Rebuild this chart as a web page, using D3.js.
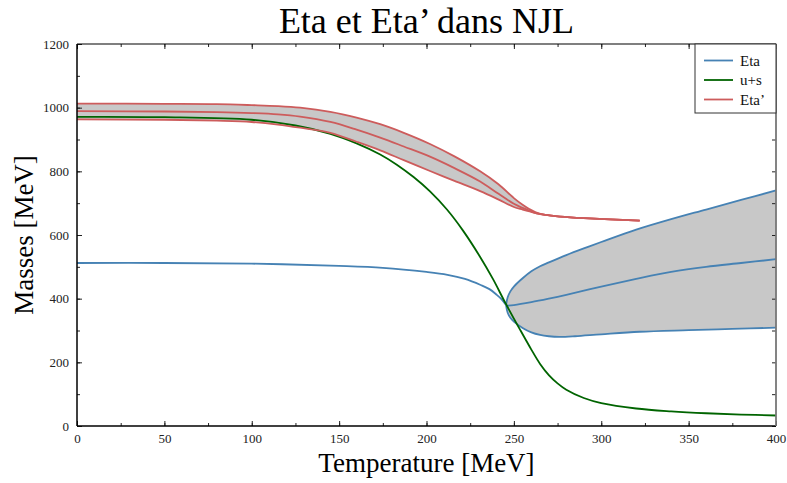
<!DOCTYPE html>
<html>
<head>
<meta charset="utf-8">
<script src="https://cdn.jsdelivr.net/npm/d3@7"></script>
<style>
  body { margin: 0; background: #fff; }
  text { font-family: "Liberation Serif", "Times New Roman", serif; }
</style>
</head>
<body>
<script>
// Eta (single branch, before the split)
const etaT = [0, 50, 100, 150, 175, 200, 212, 222, 231, 236, 240, 243, 245.5];
const etaM = [512, 512, 510, 503, 497, 484, 475, 462, 443, 430, 413, 398, 380];

// Eta after the split : upper / middle / lower
const etaUpT = [245.5, 246.5, 248, 250, 255, 260, 265, 270, 280, 290, 300, 320, 340, 360, 380, 400];
const etaUpM = [380, 405, 423, 438, 464, 486, 502, 514, 537, 558, 578, 617, 650, 680, 710, 740];
const etaMidT = [245.5, 250, 260, 270, 280, 300, 320, 340, 360, 380, 400];
const etaMidM = [378, 380, 389, 400, 412, 438, 462, 484, 500, 512, 524];
const etaLoT = [245.5, 246.5, 248, 250, 255, 260, 265, 270, 276, 285, 300, 322, 350, 375, 400];
const etaLoM = [380, 355, 340, 328, 308, 294, 286, 282, 280, 282, 288, 296, 301, 305, 309];

// u+s
const usT = [0, 50, 100, 125, 145, 160, 173.5, 183, 192.6, 202, 211.7, 221, 230.7, 238, 245, 253.6, 260, 265, 270, 275, 280, 290, 300, 320, 340, 360, 380, 400];
const usM = [971, 970, 962, 944, 918, 888, 853, 821, 782, 737, 680, 613, 531, 462, 388, 302, 240, 195, 160, 134, 114, 88, 72, 55, 46, 40, 36, 33];

// Eta' : upper / middle / lower
const etapT = [0, 50, 80, 100, 115, 127.7, 145, 160, 173.5, 187, 202, 216, 230.7, 241, 250, 255, 259, 263, 268, 276.6, 290, 305, 322];
const etapUp = [1013, 1012, 1011, 1008, 1005, 1000, 987, 969, 948, 921, 886, 847, 800, 760, 716, 695, 681, 670, 663, 658, 653, 649, 645];
const etapMid = [989, 988, 986, 983, 979, 972, 955, 931, 906, 878, 846, 810, 768, 730, 698, 685, 676, 668, 663, 658, 653, 649, 645];
const etapLo = [963, 962, 959, 955, 947, 937, 921, 893, 866, 835, 801, 770, 738, 712, 688, 680, 674, 668, 663, 658, 653, 649, 645];

const xTicks = [0, 50, 100, 150, 200, 250, 300, 350, 400];
const yTicks = [0, 200, 400, 600, 800, 1000, 1200];
const legendNames = ["Eta", "u+s", "Eta’"];

const colBlue = "#4682b4", colGreen = "#006400", colRed = "#cd5c5c", colFill = "#c8c8c8";

const W = 787, H = 483;
const margin = { top: 44, right: 11, bottom: 57, left: 77 };
const width = W - margin.left - margin.right,
  height = H - margin.top - margin.bottom;

const svg = d3.select("body").append("svg")
  .attr("width", W).attr("height", H);
const g = svg.append("g")
  .attr("transform", "translate(" + margin.left + "," + margin.top + ")");

const x = d3.scaleLinear().domain([0, 400]).range([0, width]);
const y = d3.scaleLinear().domain([0, 1200]).range([height, 0]);

const zip = (ts, ms) => ts.map((t, i) => [t, ms[i]]);

const line = d3.line()
  .x(d => x(d[0])).y(d => y(d[1]))
  .curve(d3.curveCatmullRom.alpha(0.5));

function band(ts, lo, hi) {
  return d3.area()
    .x((d, i) => x(ts[i]))
    .y0((d, i) => y(lo[i]))
    .y1((d, i) => y(hi[i]))
    .curve(d3.curveCatmullRom.alpha(0.5))(ts);
}

// gray fill for eta'
g.append("path")
  .attr("d", band(etapT, etapLo, etapUp))
  .attr("fill", colFill);

// gray fill for eta after the split: up branch out, lower branch back
const upPts = zip(etaUpT, etaUpM);
const loPts = zip(etaLoT, etaLoM);
g.append("path")
  .attr("d", line(upPts) + "L" + line(loPts.slice().reverse()).slice(1) + "Z")
  .attr("fill", colFill);

// curves
const curves = [
  [zip(etaT, etaM), colBlue],
  [upPts, colBlue],
  [zip(etaMidT, etaMidM), colBlue],
  [loPts, colBlue],
  [zip(usT, usM), colGreen],
  [zip(etapT, etapUp), colRed],
  [zip(etapT, etapMid), colRed],
  [zip(etapT, etapLo), colRed]
];
g.selectAll(".curve")
  .data(curves)
  .enter().append("path")
  .attr("class", "curve")
  .attr("d", d => line(d[0]))
  .attr("fill", "none")
  .attr("stroke", d => d[1])
  .attr("stroke-width", 1.8);

// axes, ticks pointing inward
const minorX = d3.range(0, 401, 25), minorY = d3.range(0, 1201, 100);
const axStyle = sel => {
  sel.select(".domain").remove();
  sel.selectAll("line").attr("stroke", "#222");
  sel.selectAll("text").attr("font-size", 13).attr("fill", "#222")
    .style("font-family", "Liberation Serif, serif");
};

g.append("g").attr("transform", "translate(0," + height + ")")
  .call(d3.axisBottom(x).tickValues(minorX).tickSize(-3).tickFormat(""))
  .call(axStyle);
g.append("g").attr("transform", "translate(0," + height + ")")
  .call(d3.axisBottom(x).tickValues(xTicks).tickSize(-5).tickPadding(8).tickFormat(d3.format("d")))
  .call(axStyle);
g.append("g")
  .call(d3.axisTop(x).tickValues(minorX).tickSize(-3).tickFormat(""))
  .call(axStyle);
g.append("g")
  .call(d3.axisTop(x).tickValues(xTicks).tickSize(-5).tickFormat(""))
  .call(axStyle);

g.append("g")
  .call(d3.axisLeft(y).tickValues(minorY).tickSize(-3).tickFormat(""))
  .call(axStyle);
g.append("g")
  .call(d3.axisLeft(y).tickValues(yTicks).tickSize(-5).tickPadding(8).tickFormat(d3.format("d")))
  .call(axStyle);
g.append("g").attr("transform", "translate(" + width + ",0)")
  .call(d3.axisRight(y).tickValues(minorY).tickSize(-4).tickFormat(""))
  .call(axStyle);

// frame
g.append("line").attr("x1", 0).attr("x2", width).attr("y1", height).attr("y2", height)
  .attr("stroke", "#000").attr("stroke-width", 1.5);
g.append("line").attr("x1", 0).attr("x2", 0).attr("y1", 0).attr("y2", height)
  .attr("stroke", "#000").attr("stroke-width", 1.5);
g.append("line").attr("x1", 0).attr("x2", width).attr("y1", 0).attr("y2", 0)
  .attr("stroke", "#000").attr("stroke-width", 1.2);
g.append("line").attr("x1", width).attr("x2", width).attr("y1", 0).attr("y2", height)
  .attr("stroke", "#777").attr("stroke-width", 1.8);

// legend
const legend = g.append("g").attr("transform", "translate(" + (width - 81) + ",0)");
legend.append("rect")
  .attr("width", 81).attr("height", 69)
  .attr("fill", "#fff").attr("stroke", "#333").attr("stroke-width", 1);
const legColors = [colBlue, colGreen, colRed];
const item = legend.selectAll(".item")
  .data(legendNames)
  .enter().append("g")
  .attr("class", "item")
  .attr("transform", (d, i) => "translate(0," + (16.5 + i * 19.5) + ")");
item.append("line")
  .attr("x1", 9).attr("x2", 38)
  .attr("stroke", (d, i) => legColors[i]).attr("stroke-width", 1.8);
item.append("text")
  .attr("x", 45).attr("dy", "0.35em")
  .attr("font-size", 15).attr("fill", "#111")
  .text(d => d);

// titles
svg.append("text")
  .attr("x", margin.left + width / 2).attr("y", 33)
  .attr("text-anchor", "middle")
  .attr("font-size", 36)
  .text("Eta et Eta’ dans NJL");
svg.append("text")
  .attr("x", margin.left + width / 2).attr("y", 472)
  .attr("text-anchor", "middle")
  .attr("font-size", 27)
  .text("Temperature [MeV]");
svg.append("text")
  .attr("transform", "translate(33," + (margin.top + height / 2) + ") rotate(-90)")
  .attr("text-anchor", "middle")
  .attr("font-size", 27)
  .text("Masses [MeV]");
</script>
</body>
</html>
